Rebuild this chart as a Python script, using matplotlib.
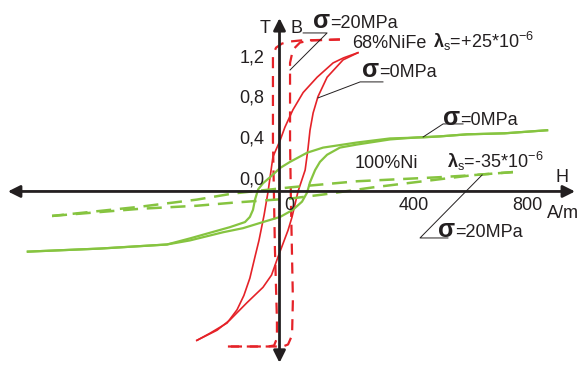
import matplotlib
matplotlib.use("Agg")
import matplotlib.pyplot as plt

plt.rcParams["font.family"] = ["Liberation Sans", "DejaVu Sans"]
plt.rcParams["mathtext.fontset"] = "custom"
plt.rcParams["mathtext.rm"] = "Liberation Sans"
plt.rcParams["mathtext.it"] = "Liberation Sans:italic"
plt.rcParams["mathtext.bf"] = "Liberation Sans:bold"

# ---- B(H) loops: H in A/m, B in T ----
# 68%NiFe, sigma = 0 MPa
nife0_desc_H = [275, 225, 188, 132, 83, 47, 19, 2, -23, -40, -54, -72, -86, -104, -125, -149, -184, -244, -290]
nife0_desc_B = [1.36, 1.31, 1.26, 1.12, 0.97, 0.80, 0.63, 0.50, 0.34, 0.0, -0.23, -0.48, -0.64, -0.85, -1.02, -1.16, -1.29, -1.39, -1.46]
nife0_asc_H = [-290, -219, -174, -114, -58, -28, -5, 30, 44, 65, 90, 100, 107, 118, 135, 167, 223, 275]
nife0_asc_B = [-1.46, -1.36, -1.26, -1.09, -0.94, -0.82, -0.64, -0.38, -0.25, 0.0, 0.21, 0.42, 0.60, 0.77, 0.93, 1.12, 1.29, 1.36]

# 68%NiFe, sigma = 20 MPa
nife20_desc_H = [212, 72, 37, 9, -12, -23, -23, -16, -9, -9, -19, -40, -181]
nife20_desc_B = [1.49, 1.48, 1.47, 1.45, 1.41, 1.34, 0.50, -0.57, -1.26, -1.44, -1.51, -1.52, -1.52]
nife20_asc_H = [-181, 12, 30, 44, 47, 40, 37, 37, 47, 72, 107, 212]
nife20_asc_B = [-1.52, -1.52, -1.50, -1.41, -1.06, -0.08, 0.50, 1.26, 1.39, 1.46, 1.48, 1.49]

# 100%Ni, sigma = 0 MPa
ni0_desc_H = [939, 790, 658, 563, 504, 388, 272, 153, 97, 37, 2, -33, -58, -75, -86, -93, -104, -121, -174, -314, -395, -630, -883]
ni0_desc_B = [0.60, 0.57, 0.56, 0.54, 0.53, 0.52, 0.48, 0.43, 0.38, 0.29, 0.23, 0.14, 0.08, 0.02, -0.08, -0.18, -0.25, -0.30, -0.35, -0.46, -0.52, -0.56, -0.59]
ni0_asc_H = [-883, -630, -395, -314, -198, -128, -58, 2, 47, 79, 97, 107, 125, 142, 167, 212, 272, 388, 483, 563, 658, 790, 939]
ni0_asc_B = [-0.59, -0.56, -0.52, -0.48, -0.40, -0.36, -0.30, -0.25, -0.18, -0.10, -0.01, 0.09, 0.21, 0.29, 0.36, 0.43, 0.46, 0.51, 0.53, 0.54, 0.56, 0.57, 0.60]

# 100%Ni, sigma = 20 MPa
ni20_desc_H = [819, 679, 563, 272, 37, -163, -290, -490, -798]
ni20_desc_B = [0.19, 0.16, 0.14, 0.10, 0.04, -0.02, -0.08, -0.15, -0.24]
ni20_asc_H = [-798, -490, -290, -163, 37, 153, 328, 563, 679, 819]
ni20_asc_B = [-0.24, -0.17, -0.14, -0.11, -0.07, -0.03, 0.04, 0.12, 0.16, 0.19]

# axis ticks
b_ticks = [0.0, 0.4, 0.8, 1.2]
b_tick_labels = ["0,0", "0,4", "0,8", "1,2"]
h_ticks = [0, 400, 800]
h_tick_labels = ["0", "400", "800"]

RED = "#e52228"
GREEN = "#86c440"
INK = "#231f20"

fig = plt.figure(figsize=(5.82, 3.67), dpi=100)
ax = fig.add_axes([0, 0, 1, 1])
ax.set_xlim(-980.7, 1061.4)
ax.set_ylim(-1.721, 1.877)
ax.axis("off")

# loops
ax.plot(nife0_desc_H, nife0_desc_B, color=RED, lw=1.2)
ax.plot(nife0_asc_H, nife0_asc_B, color=RED, lw=1.2)
ax.plot(nife20_desc_H, nife20_desc_B, color=RED, lw=1.6, dashes=(5, 3.5))
ax.plot(nife20_asc_H, nife20_asc_B, color=RED, lw=1.6, dashes=(5, 3.5))
ax.plot(ni0_desc_H, ni0_desc_B, color=GREEN, lw=1.6)
ax.plot(ni0_asc_H, ni0_asc_B, color=GREEN, lw=1.6)
ax.plot(ni20_desc_H, ni20_desc_B, color=GREEN, lw=1.8, dashes=(6, 3.5))
ax.plot(ni20_asc_H, ni20_asc_B, color=GREEN, lw=1.8, dashes=(6, 3.5))

# axes with arrow heads at both ends
arrow = dict(arrowstyle="<|-|>", color=INK, lw=2, mutation_scale=18,
             shrinkA=0, shrinkB=0)
ax.annotate("", xy=(1037, 0), xytext=(-953, 0), arrowprops=arrow, zorder=5)
ax.annotate("", xy=(0, 1.70), xytext=(0, -1.68), arrowprops=arrow, zorder=5)

FS = 13
for b, lab in zip(b_ticks, b_tick_labels):
    ax.annotate(lab, xy=(0, b), xytext=(-15, 3), textcoords="offset pixels",
                ha="right", va="bottom", fontsize=FS, color=INK)
for h, lab in zip(h_ticks, h_tick_labels):
    ax.annotate(lab, xy=(h, 0), xytext=(5, -6), textcoords="offset pixels",
                ha="left", va="top", fontsize=FS, color=INK)

ax.text(-68, 1.554, "T", fontsize=FS, color=INK, va="baseline")
ax.text(37, 1.554, "B", fontsize=FS, color=INK, va="baseline")
ax.text(967, 0.093, "H", fontsize=FS, color=INK, va="baseline")
ax.text(939, -0.26, "A/m", fontsize=FS, color=INK, va="baseline")


def stress_label(x, y, rest):
    sig = ax.text(x, y, "σ", fontsize=18, fontweight="bold", color=INK,
                  va="baseline", ha="left")
    ax.annotate(rest, xy=(1, y), xycoords=(sig, "data"), fontsize=FS,
                color=INK, va="baseline", ha="left")


stress_label(117, 1.603, "=20MPa")
stress_label(290, 1.123, "=0MPa")
stress_label(574, 0.652, "=0MPa")
stress_label(556, -0.446, "=20MPa")

ax.text(254, 1.407, "68%NiFe", fontsize=FS, color=INK, va="baseline")
ax.text(539, 1.407, r"$\mathbf{\lambda}_{\mathrm{s}}$=+25*10$^{\mathrm{-6}}$",
        fontsize=FS, color=INK, va="baseline")
ax.text(265, 0.230, "100%Ni", fontsize=FS, color=INK, va="baseline")
ax.text(588, 0.230, r"$\mathbf{\lambda}_{\mathrm{s}}$=-35*10$^{\mathrm{-6}}$",
        fontsize=FS, color=INK, va="baseline")

# leader lines from the stress labels to their curves
leaders = [
    ([83, 167, 37], [1.554, 1.554, 1.191]),
    ([363, 283, 135], [1.074, 1.074, 0.917]),
    ([644, 574, 504], [0.662, 0.662, 0.534]),
    ([591, 493, 711], [-0.456, -0.456, 0.162]),
]
for lx, ly in leaders:
    ax.plot(lx, ly, color=INK, lw=0.7)

fig.savefig("out.png", dpi=100)
